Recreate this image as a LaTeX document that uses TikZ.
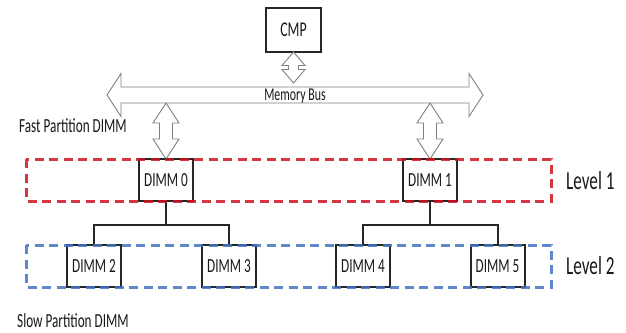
\documentclass[tikz,border=0pt]{standalone}
\usepackage{fontspec}
\setmainfont{Carlito}[FakeStretch=0.66]
\definecolor{boxc}{RGB}{38,38,38}
\definecolor{arrc}{RGB}{128,128,128}
\definecolor{redc}{RGB}{205,20,30}
\definecolor{bluec}{RGB}{68,114,196}
\definecolor{txt}{RGB}{25,25,25}
\newcommand\vdarr[6]{% center x, top y, bottom y, half shaft, half head, head length
  \filldraw[blk] (#1,#2) -- ({#1+#5},{#2+#6}) -- ({#1+#4},{#2+#6}) -- ({#1+#4},{#3-#6})
    -- ({#1+#5},{#3-#6}) -- (#1,#3) -- ({#1-#5},{#3-#6}) -- ({#1-#4},{#3-#6})
    -- ({#1-#4},{#2+#6}) -- ({#1-#5},{#2+#6}) -- cycle;}
\begin{document}
\begin{tikzpicture}[x=1pt,y=-1pt,
  blk/.style={draw=arrc, fill=white, line width=0.9pt, line join=miter},
  dimm/.style={draw=boxc, line width=2pt, fill=white, minimum width=54pt, minimum height=42pt,
    inner sep=0pt, text=txt, font=\fontsize{20}{24}\selectfont},
  tree/.style={draw=boxc, line width=2pt},
  lvl/.style={dashed, line width=3pt, dash pattern=on 9pt off 5.5pt},
  lbl/.style={anchor=west, inner sep=0pt, text=txt, font=\fontsize{20}{24}\selectfont},
  levlbl/.style={anchor=west, inner sep=0pt, text=txt, font=\fontsize{26}{30}\selectfont}]
\useasboundingbox (0,0) rectangle (626,332);
\fill[white] (0,0) rectangle (626,332);

% CMP
\node[dimm, minimum width=55pt, minimum height=44pt, font=\fontsize{21}{24}\selectfont] (cmp) at (293.5,30) {CMP};

% memory bus
\filldraw[blk] (107,95) -- (121,73.5) -- (121,87) -- (469,87) -- (469,73.5) -- (483,95)
  -- (469,116.5) -- (469,103) -- (121,103) -- (121,116.5) -- cycle;
\node[anchor=base, inner sep=0pt, text=txt, font=\fontsize{18}{20}\selectfont] (bus) at (295,100) {Memory Bus};

% vertical block arrows
\vdarr{293.5}{52}{83}{5}{11.5}{13.5}
\vdarr{166}{103}{159}{6.5}{13}{20}
\vdarr{430}{103}{159}{6.5}{13}{20}

\node[lbl] (fast) at (19,126) {Fast Partition DIMM};
\node[lbl] (slow) at (17,321) {Slow Partition DIMM};

% DIMMs
\node[dimm] (d0) at (166,180) {DIMM 0};
\node[dimm] (d1) at (430,180) {DIMM 1};
\node[dimm] (d2) at (94,266) {DIMM 2};
\node[dimm] (d3) at (229,266) {DIMM 3};
\node[dimm] (d4) at (363,266) {DIMM 4};
\node[dimm] (d5) at (497.5,266) {DIMM 5};

% tree connectors
\coordinate (j0) at (166,225);
\coordinate (j1) at (430,225);
\draw[tree] (d0.south) -- (j0);
\draw[tree] (d2.north) |- (j0) -| (d3.north);
\draw[tree] (d1.south) -- (j1);
\draw[tree] (d4.north) |- (j1) -| (d5.north);

% level boxes
\draw[lvl, draw=redc, opacity=0.85] (26,159) rectangle (551,201);
\draw[lvl, draw=bluec, opacity=0.85] (26,245) rectangle (551,287);

\node[levlbl] (l1) at (566,181) {Level 1};
\node[levlbl] (l2) at (566,266) {Level 2};
\end{tikzpicture}
\end{document}
